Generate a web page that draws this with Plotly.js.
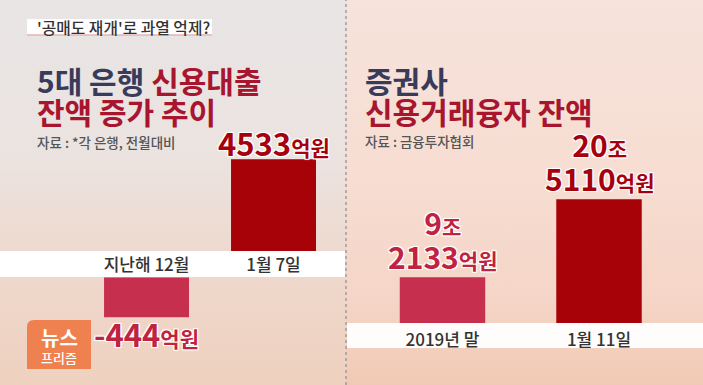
<!DOCTYPE html>
<html><head><meta charset="utf-8">
<script src="https://cdn.plot.ly/plotly-3.0.1.min.js"></script>
<style>
html,body{margin:0;padding:0;width:703px;height:385px;overflow:hidden;}
#bg{position:absolute;left:0;top:0;width:703px;height:385px;
background:
 linear-gradient(180deg,#e8e5e5 0%,#ebe3e0 40%,#eed8cc 70%,#efd1bf 100%) 0 0/346px 385px no-repeat,
 linear-gradient(180deg,#f6e3dc 0%,#f7ddd2 45%,#f5d6c8 75%,#f1cab6 100%) 346px 0/357px 385px no-repeat;}
#chart{position:absolute;left:0;top:0;width:703px;height:385px;}
</style></head>
<body><div id="bg"></div><div id="chart"></div>
<script>
// ---- data ----
const leftCategories = ['지난해 12월', '1월 7일'];
const leftValues = [-444, 4533];            // 억원, 전월대비 증가
const rightCategories = ['2019년 말', '1월 11일'];
const rightValues = [92133, 205110];        // 억원

// ---- styles ----
const barColors = ['#c6304e', '#a70208'];
const labelColors = ['#c0223f', '#a5000c'];
const NAVY = '#383b5a', RED = '#a8152e';
const KR = '"Noto Sans CJK KR", "Noto Sans", sans-serif';
const OUTLINE = '1px 1px 0 #fff, -1px -1px 0 #fff, 1px -1px 0 #fff, -1px 1px 0 #fff, 0 0 3px #fff';
const BIG = (s) => "<span style='font-size:30px'>" + s + "</span>";
const SMALL = (s) => "<span style='font-size:21px'>" + s + "</span>";
const T = (s, c) => "<span style='font-size:30px;color:" + c + "'>" + s + "</span>";

const traces = [];
const annotations = [];

leftValues.forEach((v, i) => {
  const ya = v < 0 ? 'y2' : 'y';
  traces.push({type: 'bar', x: [leftCategories[i]], y: [v], xaxis: 'x', yaxis: ya,
    width: 0.669, marker: {color: barColors[i]}, hoverinfo: 'skip'});
  annotations.push({xref: 'x', yref: ya, x: leftCategories[i], y: v,
    yanchor: 'middle', yshift: v < 0 ? -16 : 17, showarrow: false,
    text: v + SMALL('억원'),
    font: {family: KR, size: 31, color: labelColors[i], weight: 700, shadow: OUTLINE}});
});

rightValues.forEach((v, i) => {
  const jo = Math.floor(v / 10000), eok = v % 10000;
  traces.push({type: 'bar', x: [rightCategories[i]], y: [v], xaxis: 'x3', yaxis: 'y3',
    width: 0.546, marker: {color: barColors[i]}, hoverinfo: 'skip'});
  annotations.push({xref: 'x3', yref: 'y3', x: rightCategories[i], y: v,
    yanchor: 'bottom', yshift: -3, showarrow: false,
    text: BIG(jo) + SMALL('조') + '<br>' + BIG(eok) + SMALL('억원'),
    font: {family: KR, size: 26, color: labelColors[i], weight: 700, shadow: OUTLINE}});
});

function txt(px, py, text, size, color, weight, anchor) {
  return {xref: 'paper', yref: 'paper', x: px / 703, y: 1 - py / 385,
    xanchor: anchor || 'left', yanchor: 'middle', showarrow: false, text: text, align: 'left',
    font: {family: KR, size: size, color: color, weight: weight || 400}};
}
annotations.push(
  txt(35, 27, "'공매도 재개'로 과열 억제?", 15.8, '#333', 500),
  txt(35, 95.5, T('5대 은행 ', NAVY) + T('신용대출', RED) + '<br>' + T('잔액 증가 추이', RED), 24, NAVY, 700),
  txt(35, 142, "자료 : *각 은행, 전월대비", 13.5, '#555', 500),
  txt(363, 95.5, T('증권사', NAVY) + '<br>' + T('신용거래융자 잔액', RED), 24, NAVY, 700),
  txt(363, 141, "자료 : 금융투자협회", 13.5, '#555', 500),
  txt(59, 337, "뉴스", 20, '#fff', 700, 'center'),
  txt(59, 357, "프리즘", 13, '#fff', 500, 'center')
);

const P = (px) => px / 703, Q = (py) => 1 - py / 385;
const shapes = [
  {type: 'rect', xref: 'paper', yref: 'paper', x0: 0, x1: P(345), y0: Q(277), y1: Q(251),
    fillcolor: '#ffffff', line: {width: 0}, layer: 'below'},
  {type: 'rect', xref: 'paper', yref: 'paper', x0: P(347), x1: 1, y0: Q(348), y1: Q(323),
    fillcolor: 'rgba(255,255,255,0.95)', line: {width: 0}, layer: 'below'},
  {type: 'line', xref: 'paper', yref: 'paper', x0: P(346), x1: P(346), y0: 0, y1: 1,
    line: {color: '#a09c9c', width: 1.5, dash: 'dot'}},
  {type: 'rect', xref: 'paper', yref: 'paper', x0: P(27), x1: P(212), y0: Q(35), y1: Q(19),
    fillcolor: '#ffffff', line: {width: 0}, layer: 'below'},
  {type: 'line', xref: 'paper', yref: 'paper', x0: P(27), x1: P(212), y0: Q(35), y1: Q(35),
    line: {color: '#e6b3b0', width: 1.5}},
  {type: 'path', xref: 'paper', yref: 'paper',
    path: `M ${P(27)} ${Q(369)} L ${P(27)} ${Q(327)} Q ${P(27)} ${Q(320)} ${P(34)} ${Q(320)} L ${P(91)} ${Q(320)} L ${P(91)} ${Q(369)} Z`,
    fillcolor: '#ef8050', line: {width: 0}}
];

const axTick = {family: KR, size: 17, color: '#333', weight: 500};
const layout = {
  width: 703, height: 385, margin: {l: 0, r: 0, t: 0, b: 0},
  paper_bgcolor: 'rgba(0,0,0,0)', plot_bgcolor: 'rgba(0,0,0,0)',
  showlegend: false, barmode: 'overlay',
  xaxis: {domain: [0.1181, 0.4794], range: [-0.5, 1.5], type: 'category',
    categoryorder: 'array', categoryarray: leftCategories, anchor: 'y',
    showgrid: false, zeroline: false, showline: false, ticks: '', tickfont: axTick,
    ticklabelstandoff: 2, fixedrange: true},
  yaxis: {domain: [0.34805, 0.74026], range: [0, 7464], visible: false, anchor: 'x'},
  yaxis2: {domain: [0, 0.28], range: [-1197, 0], visible: false, anchor: 'x'},
  xaxis3: {domain: [0.5181, 0.9634], range: [-0.5, 1.5], type: 'category',
    categoryorder: 'array', categoryarray: rightCategories, anchor: 'y3',
    showgrid: false, zeroline: false, showline: false, ticks: '', tickfont: axTick,
    ticklabelstandoff: 5, fixedrange: true},
  yaxis3: {domain: [0.161, 0.7403], range: [25940, 348940], visible: false, anchor: 'x3'},
  shapes: shapes, annotations: annotations
};

Plotly.newPlot('chart', traces, layout, {displayModeBar: false, staticPlot: true});
</script>
</body></html>
